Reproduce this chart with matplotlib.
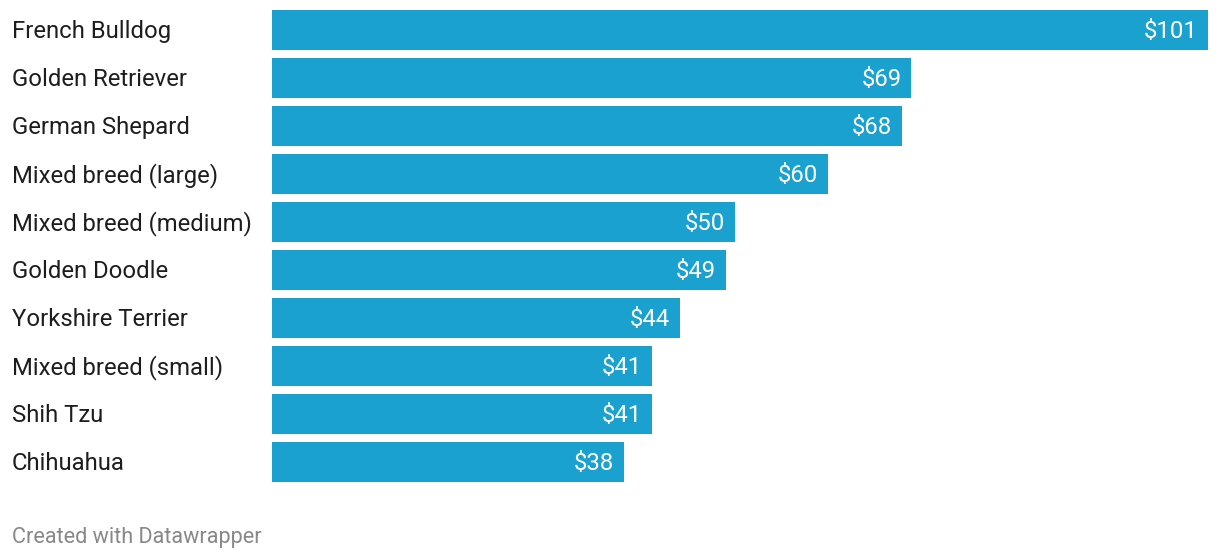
import matplotlib
matplotlib.use('Agg')
import matplotlib.pyplot as plt
import matplotlib.transforms as mtransforms

breeds = ['French Bulldog', 'Golden Retriever', 'German Shepard',
          'Mixed breed (large)', 'Mixed breed (medium)', 'Golden Doodle',
          'Yorkshire Terrier', 'Mixed breed (small)', 'Shih Tzu', 'Chihuahua']
costs = [101, 69, 68, 60, 50, 49, 44, 41, 41, 38]

plt.rcParams['font.family'] = ['Roboto', 'DejaVu Sans']

W, H = 1220, 558
fig = plt.figure(figsize=(W / 100, H / 100), dpi=100)
fig.patch.set_facecolor('white')

# axes: bars from x=272 to 1208 px, slots from y=6 to 486 px
ax = fig.add_axes([272 / W, (H - 486) / H, 936 / W, 480 / H])
ypos = list(range(len(breeds)))
ax.barh(ypos, costs, height=40 / 48, color='#1aa1cf', linewidth=0)
ax.set_xlim(0, 101)
ax.set_ylim(len(breeds) - 0.5, -0.5)
ax.axis('off')

lab = mtransforms.blended_transform_factory(fig.transFigure, ax.transData)
lab = mtransforms.offset_copy(lab, fig=fig, x=0, y=1, units='dots')
off = mtransforms.offset_copy(ax.transData, fig=fig, x=-10, y=1, units='dots')
for y, name, v in zip(ypos, breeds, costs):
    ax.text(12 / W, y, name, transform=lab, ha='left', va='center_baseline',
            fontsize=17.2, color='#1d1d1d')
    ax.text(v, y, '$' + str(v), transform=off, ha='right', va='center_baseline',
            fontsize=17.2, color='white')

fig.text(12 / W, (H - 535) / H, 'Created with Datawrapper', ha='left',
         va='center_baseline', fontsize=15.6, color='#888888')

fig.savefig('out.png', dpi=100)
